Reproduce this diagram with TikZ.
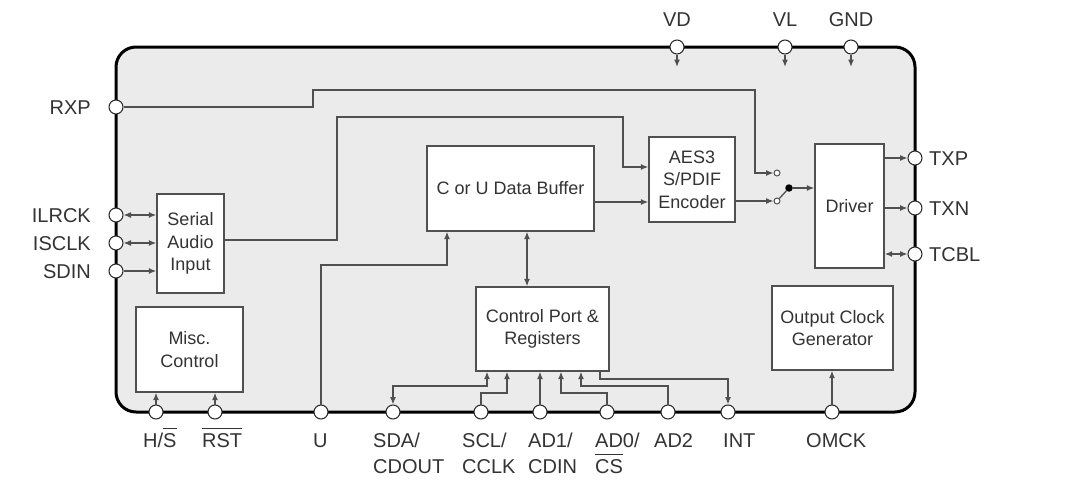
\documentclass[tikz,border=0pt]{standalone}
\usepackage{fontspec}
\setmainfont{Liberation Sans}
\usetikzlibrary{arrows.meta}
\definecolor{chipfill}{HTML}{EBEBEB}
\definecolor{ln}{HTML}{505050}
\definecolor{tx}{HTML}{333333}
\newcommand\olbar[2][4pt]{\leavevmode\vbox{\hrule height 1pt\kern#1\hbox{#2}}}
\begin{document}
\begin{tikzpicture}[x=1pt,y=-1pt,
  blk/.style={draw=ln, fill=white, line width=1.4pt, inner sep=0pt, align=center, font=\fontsize{18}{22.5}\selectfont, text=tx},
  pin/.style={circle, draw=black!85, fill=white, line width=1pt, minimum size=14pt, inner sep=0pt},
  lbl/.style={font=\fontsize{20}{24}\selectfont, text=tx, inner sep=0pt},
  arr/.style={draw=ln, line width=1.3pt, -{Latex[length=7.5pt,width=6pt]}},
  darr/.style={draw=ln, line width=1.3pt, {Latex[length=7.5pt,width=6pt]}-{Latex[length=7.5pt,width=6pt]}},
  wire/.style={draw=ln, line width=1.3pt},
  contact/.style={circle, draw=ln, fill=white, line width=1pt, minimum size=6pt, inner sep=0pt},
  pivot/.style={circle, fill=black, minimum size=7.5pt, inner sep=0pt},
]
\useasboundingbox[fill=white] (0,0) rectangle (1088,490);
% chip outline
\draw[line width=3pt, fill=chipfill, rounded corners=20pt] (116,47) rectangle (915,412);

% blocks
\node[blk, minimum width=67pt, minimum height=99pt] (sai) at (190.5,243.5) {Serial\\Audio\\Input};
\node[blk, minimum width=107pt, minimum height=85pt] (misc) at (189.5,349.5) {Misc.\\Control};
\node[blk, minimum width=167pt, minimum height=85pt] (buf) at (510.5,188.5) {C or U Data Buffer};
\node[blk, minimum width=86pt, minimum height=85pt] (aes) at (692,179.5) {AES3\\S/PDIF\\Encoder};
\node[blk, minimum width=69pt, minimum height=124pt] (drv) at (849.5,206) {Driver};
\node[blk, minimum width=133pt, minimum height=84pt] (cp) at (542.5,329) {Control Port \&\\Registers};
\node[blk, minimum width=121pt, minimum height=84pt] (ocg) at (832.5,328) {Output Clock\\Generator};

% switch
\node[contact] (sw1) at (777,173) {};
\node[contact] (sw2) at (777,201) {};
\node[pivot] (piv) at (789,188) {};

% pins
\foreach \n/\x in {VD/677,VL/785,GND/851} \node[pin] (p\n) at (\x,47) {};
\foreach \n/\y in {RXP/107,ILRCK/215,ISCLK/243,SDIN/271} \node[pin] (p\n) at (116,\y) {};
\foreach \n/\y in {TXP/158,TXN/208,TCBL/254} \node[pin] (p\n) at (915,\y) {};
\foreach \n/\x in {HS/156,RST/215,U/321,SDA/393,SCL/481,ADa/540,ADb/607,ADc/668,INT/728,OMCK/832} \node[pin] (p\n) at (\x,412) {};

% top supply arrows
\foreach \n/\x in {VD/677,VL/785,GND/851} {
  \coordinate (a\n) at (\x,67);
  \draw[arr] (p\n) -- (a\n);
}

% RXP path to switch
\draw[arr] (pRXP) -- (313,107) -- (313,90) -- (755,90) -- (755,173) -- (sw1);
% serial audio input
\draw[darr] (pILRCK) -- (sai.west |- pILRCK);
\draw[darr] (pISCLK) -- (sai.west |- pISCLK);
\draw[arr] (pSDIN) -- (sai.west |- pSDIN);
\draw[arr] ([yshift=3.5pt]sai.east) -- (337,240) -- (337,117) -- (623,117) -- (623,167) -- ([yshift=12.5pt]aes.west);
% buffer to encoder
\draw[arr] ([yshift=-13.5pt]buf.east) -- ([yshift=-22.5pt]aes.west);
\draw[arr] ([yshift=-21.5pt]aes.east) -- (sw2);
\draw[wire] (sw2) -- (piv);
\draw[arr] (piv) -- (drv.west |- piv);
% driver outputs
\draw[arr] (drv.east |- pTXP) -- (pTXP);
\draw[arr] (drv.east |- pTXN) -- (pTXN);
\draw[darr] (drv.east |- pTCBL) -- (pTCBL);
% U pin
\draw[arr] (pU) -- (321,265) -- (447,265) -- ([xshift=-63.5pt]buf.south);
% buffer <-> control port
\draw[darr] ([xshift=16.5pt]buf.south) -- ([xshift=-15.5pt]cp.north);
% control port pins
\draw[darr] ([xshift=-55.5pt]cp.south) -- (487,386) -- (393,386) -- (pSDA);
\draw[arr] (pSCL) -- (481,393) -- (507,393) -- ([xshift=-35.5pt]cp.south);
\draw[arr] (pADa) -- (pADa |- cp.south);
\draw[arr] (pADb) -- (607,393) -- (561,393) -- ([xshift=18.5pt]cp.south);
\draw[arr] (pADc) -- (668,386) -- (581,386) -- ([xshift=38.5pt]cp.south);
\draw[arr] ([xshift=57.5pt]cp.south) -- (600,379) -- (728,379) -- (pINT);
% misc & clock
\draw[arr] (pHS) -- (pHS |- misc.south);
\draw[arr] (pRST) -- (pRST |- misc.south);
\draw[arr] (pOMCK) -- (pOMCK |- ocg.south);

% labels
\node[lbl, anchor=base] (tVD) at (677,26) {VD};
\node[lbl, anchor=base] (tVL) at (785,26) {VL};
\node[lbl, anchor=base] (tGND) at (851,26) {GND};
\node[lbl, anchor=base east] (tRXP) at (91,114) {RXP};
\node[lbl, anchor=base east] (tILRCK) at (91,222) {ILRCK};
\node[lbl, anchor=base east] (tISCLK) at (91,250) {ISCLK};
\node[lbl, anchor=base east] (tSDIN) at (91,278) {SDIN};
\node[lbl, anchor=base west] (tTXP) at (929,165) {TXP};
\node[lbl, anchor=base west] (tTXN) at (929,215) {TXN};
\node[lbl, anchor=base west] (tTCBL) at (929,261) {TCBL};
\node[lbl, anchor=base west] (tHS) at (143,447) {H/\olbar{S}};
\node[lbl, anchor=base west] (tRST) at (202,447) {\olbar{RST}};
\node[lbl, anchor=base west] (tU) at (313,447) {U};
\node[lbl, anchor=base west] (tSDA) at (373,447) {SDA/};
\node[lbl, anchor=base west] (tSDAb) at (373,473) {CDOUT};
\node[lbl, anchor=base west] (tSCL) at (462,447) {SCL/};
\node[lbl, anchor=base west] (tSCLb) at (462,473) {CCLK};
\node[lbl, anchor=base west] (tADa) at (528,447) {AD1/};
\node[lbl, anchor=base west] (tADab) at (528,473) {CDIN};
\node[lbl, anchor=base west] (tADb) at (595,447) {AD0/};
\node[lbl, anchor=base west] (tADbb) at (595,473) {\olbar{CS}};
\node[lbl, anchor=base west] (tADc) at (654,447) {AD2};
\node[lbl, anchor=base west] (tINT) at (723,447) {INT};
\node[lbl, anchor=base west] (tOMCK) at (806,447) {OMCK};
\end{tikzpicture}
\end{document}
